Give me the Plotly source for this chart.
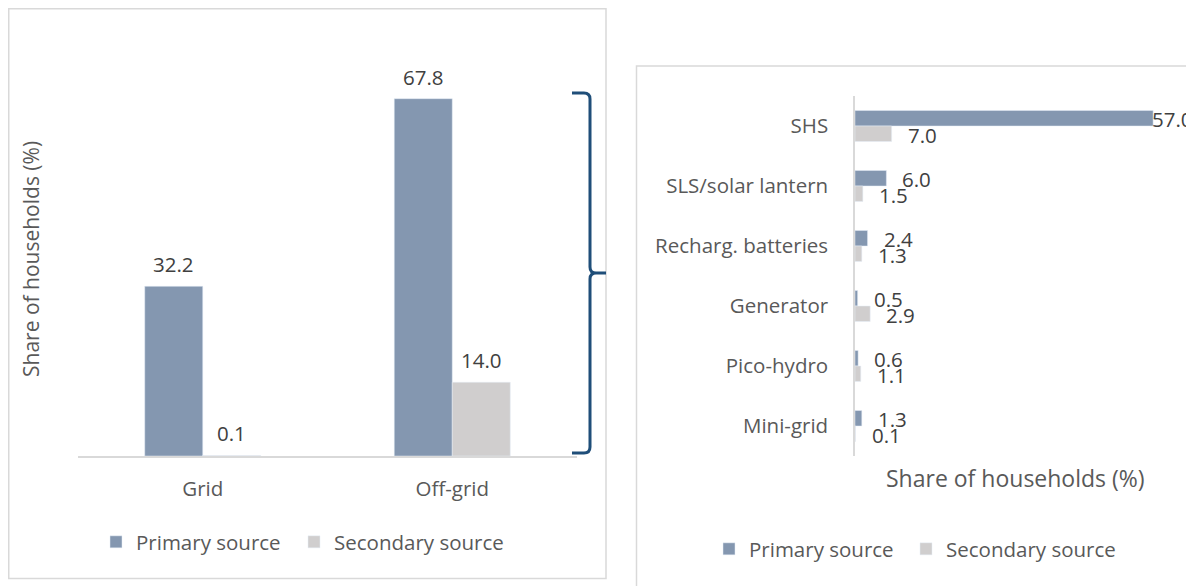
import plotly.graph_objects as go

W, H = 1194, 586
OFF = 8  # default page margin of the html body

# ---- data ----
grid_cats = ["Grid", "Off-grid"]
grid_primary = [32.2, 67.8]
grid_secondary = [0.1, 14.0]

tech_cats = ["SHS", "SLS/solar lantern", "Recharg. batteries", "Generator", "Pico-hydro", "Mini-grid"]
tech_primary = [57.0, 6.0, 2.4, 0.5, 0.6, 1.3]
tech_secondary = [7.0, 1.5, 1.3, 2.9, 1.1, 0.1]

series_names = ["Primary source", "Secondary source"]
axis_title = "Share of households (%)"

# ---- style ----
C_PRIM = "#8497B0"
C_SEC = "#D0CECE"
C_TXT = "#595959"
C_LBL = "#404040"
C_LINE = "#D9D9D9"
FONT = "Open Sans"
FS = 20.5


def px(x):
    return (x - OFF) / W


def py(y):
    return 1 - (y - OFF) / H


fig = go.Figure()

# left chart bars
LW = 0.2325
fig.add_trace(go.Bar(x=grid_cats, y=grid_primary, name=series_names[0], marker_color=C_PRIM,
                     width=LW, offset=-LW, xaxis="x", yaxis="y", legend="legend"))
fig.add_trace(go.Bar(x=grid_cats, y=grid_secondary, name=series_names[1], marker_color=C_SEC,
                     width=LW, offset=0, xaxis="x", yaxis="y", legend="legend2"))

# right chart bars
RW = 0.258
fig.add_trace(go.Bar(y=tech_cats, x=tech_primary, orientation="h", name=series_names[0], marker_color=C_PRIM,
                     width=RW, offset=-RW, xaxis="x2", yaxis="y2", legend="legend3"))
fig.add_trace(go.Bar(y=tech_cats, x=tech_secondary, orientation="h", name=series_names[1], marker_color=C_SEC,
                     width=RW, offset=0, xaxis="x2", yaxis="y2", legend="legend4"))

annotations = []
# left data labels
for i, (p, s) in enumerate(zip(grid_primary, grid_secondary)):
    for v, xpos in ((p, i - LW / 2), (s, i + LW / 2)):
        annotations.append(dict(x=xpos, y=v, xref="x", yref="y", text=f"{v:.1f}", showarrow=False,
                                yanchor="bottom", yshift=6, font=dict(family=FONT, size=FS, color=C_LBL)))
# right data labels
RMAX = 60
for i, (p, s) in enumerate(zip(tech_primary, tech_secondary)):
    for v, ypos in ((p, i - RW / 2), (s, i + RW / 2)):
        shift = 14 if v < 0.75 * RMAX else -3
        annotations.append(dict(x=v, y=ypos, xref="x2", yref="y2", text=f"{v:.1f}", showarrow=False,
                                xanchor="left", yanchor="middle", xshift=shift, yshift=-1,
                                font=dict(family=FONT, size=FS, color=C_LBL)))
# axis titles
annotations.append(dict(x=px(31), y=py(259), xref="paper", yref="paper", text=axis_title, textangle=-90,
                        showarrow=False, xanchor="center", yanchor="middle",
                        font=dict(family=FONT, size=21, color=C_TXT)))
annotations.append(dict(x=px(1015), y=py(478), xref="paper", yref="paper", text=axis_title,
                        showarrow=False, xanchor="center", yanchor="middle",
                        font=dict(family=FONT, size=23, color=C_TXT)))


def path(cmds):
    out = []
    for c in cmds:
        if isinstance(c, str):
            out.append(c)
        else:
            out.append(f"{px(c[0]):.5f},{py(c[1]):.5f}")
    return " ".join(out)


bracket = path(["M", (572, 93), "L", (584, 93), "Q", (590, 93), (590, 99), "L", (590, 267),
                "Q", (590, 273), (596, 273), "L", (606, 273),
                "M", (596, 273), "Q", (590, 273), (590, 279), "L", (590, 447),
                "Q", (590, 453), (584, 453), "L", (572, 453)])

shapes = [
    dict(type="rect", xref="paper", yref="paper", x0=px(8.75), x1=px(606), y0=py(578.5), y1=py(8.75),
         line=dict(color=C_LINE, width=1.5), layer="below"),
    dict(type="rect", xref="paper", yref="paper", x0=px(636.5), x1=px(1210), y0=py(610), y1=py(66),
         line=dict(color=C_LINE, width=1.5), layer="below"),
    dict(type="path", xref="paper", yref="paper", path=bracket, line=dict(color="#1F4E79", width=3)),
]

tickfont = dict(family=FONT, size=FS, color=C_TXT)
legfont = dict(family=FONT, size=FS, color=C_TXT)


def leg(xp, yp):
    return dict(orientation="h", x=px(xp), y=py(yp), xanchor="left", yanchor="middle",
                font=legfont, bgcolor="rgba(0,0,0,0)")


fig.update_layout(
    width=W, height=H,
    margin=dict(l=0, r=0, t=0, b=0),
    paper_bgcolor="white", plot_bgcolor="rgba(0,0,0,0)",
    barmode="group",
    xaxis=dict(domain=[px(78), px(577)], range=[-0.5, 1.5], showline=True, linecolor=C_LINE, linewidth=1.5,
               ticks="", ticklabelstandoff=14, tickfont=tickfont, showgrid=False, zeroline=False),
    yaxis=dict(domain=[py(456), py(34.4)], range=[0, 80], visible=False),
    xaxis2=dict(domain=[px(855), px(855 + 60 * 5.23)], range=[0, RMAX], visible=False, anchor="y2"),
    yaxis2=dict(domain=[py(456), py(96)], range=[5.5, -0.5], anchor="x2", showline=True, linecolor=C_LINE,
                linewidth=1.5, ticks="", ticklabelstandoff=21, tickfont=tickfont, showgrid=False, zeroline=False),
    legend=leg(96, 542),
    legend2=leg(294, 542),
    legend3=leg(709, 549),
    legend4=leg(906, 549),
    annotations=annotations,
    shapes=shapes,
    showlegend=True,
)

fig.write_html("out.html")
